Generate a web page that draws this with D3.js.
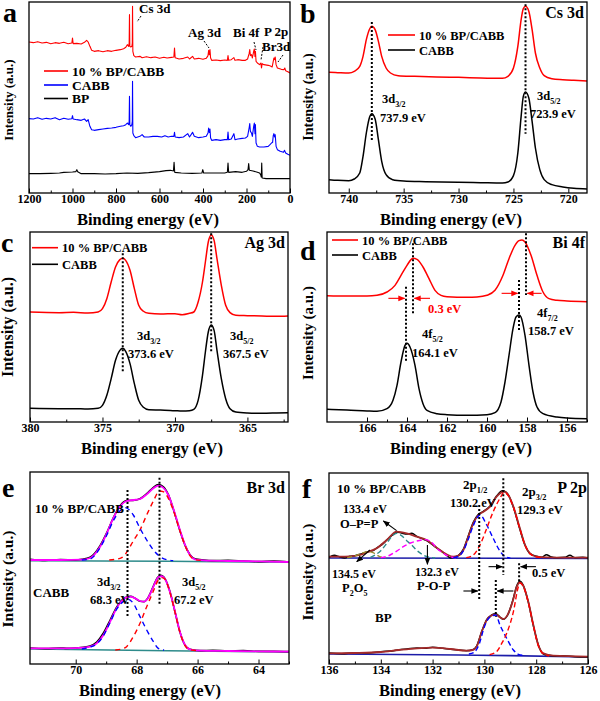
<!DOCTYPE html>
<html><head><meta charset="utf-8">
<script src="https://cdn.jsdelivr.net/npm/d3@7/dist/d3.min.js"></script>
<style>body{margin:0;background:#fff}svg{display:block}</style>
</head><body>
<script>
// ---------------- DATA (binding energy eV, intensity a.u.) ----------------
// Panel a: survey spectra
const aRed = [[1200,453],[1180,451],[1160,454],[1140,450],[1120,452],[1100,448],[1080,451],[1060,449],[1040,452],[1020,448],[1003,450],[1000,465],[997,448],[980,449],[960,447],[945,452],[935,458],[928,453],[920,440],[912,428],[900,425],[880,427],[860,424],[840,427],[820,425],[800,428],[780,430],[765,433],[755,437],[748,445],[742,440],[739.5,450],[738,535],[736.5,440],[732,438],[727,440],[725,450],[724,560],[722.5,425],[718,412],[710,408],[690,410],[680,406],[660,409],[640,406],[620,408],[600,404],[580,407],[565,405],[545,407],[534,408],[531,435],[528,406],[510,402],[490,404],[470,408],[462,402],[448,410],[440,402],[420,404],[400,401],[385,404],[377,412],[374,428],[371,415],[368,430],[365,405],[360,398],[340,399],[320,397],[300,399],[288,398],[285,412],[282,398],[270,400],[258,406],[253,398],[240,400],[220,398],[205,398],[195,402],[188,418],[185,430],[182,412],[177,415],[173,405],[167,425],[164,432],[161,410],[159,425],[156,395],[150,390],[140,385],[134,390],[131,375],[128,388],[120,385],[100,383],[90,381],[82,378],[77,395],[74,405],[71,400],[68,408],[64,385],[58,375],[40,371],[28,370],[24,375],[20,367],[10,364],[0,360]];
const aBlue = [[1200,223],[1180,222],[1160,226],[1140,221],[1120,224],[1100,222],[1080,226],[1060,220],[1040,224],[1020,221],[1003,223],[1000,232],[997,222],[980,220],[960,218],[945,222],[935,215],[928,220],[920,200],[912,190],[900,188],[880,190],[860,192],[840,194],[820,195],[800,197],[780,200],[765,202],[755,205],[748,210],[742,205],[739.5,215],[738,290],[736.5,205],[732,200],[727,205],[725,215],[724,335],[722.5,180],[718,172],[710,166],[690,170],[680,175],[670,168],[650,168],[630,170],[610,170],[590,168],[575,172],[560,168],[545,170],[534,170],[531,182],[528,168],[510,166],[490,168],[470,178],[462,168],[448,182],[440,170],[420,166],[400,168],[385,170],[377,180],[374,195],[371,182],[368,192],[365,165],[360,158],[340,160],[320,158],[300,160],[288,160],[285,183],[282,160],[270,162],[258,178],[253,160],[240,162],[220,164],[205,165],[195,170],[188,195],[185,208],[182,185],[177,180],[173,170],[167,200],[164,210],[161,178],[159,205],[156,150],[150,140],[140,138],[120,138],[100,140],[92,145],[85,150],[80,152],[77,172],[74,178],[71,168],[68,175],[64,140],[58,130],[45,125],[30,122],[25,128],[20,120],[10,116],[0,113]];
const aBlack = [[1200,58],[1150,58],[1100,59],[1060,60],[1040,62],[1000,63],[985,64],[980,70],[976,64],[960,58],[940,58],[900,58],[850,57],[800,58],[750,60],[700,59],[650,61],[600,64],[570,67],[550,68],[536,66],[533,92],[530,62],[500,60],[450,59],[405,60],[401,70],[397,60],[350,60],[300,60],[288,62],[285,90],[282,62],[250,64],[220,62],[200,65],[193,70],[190,88],[187,68],[170,66],[150,62],[140,60],[135,55],[132,48],[130,90],[128,45],[110,43],[80,43],[50,43],[20,43],[0,43]];
const aTicks = [1200,1000,800,600,400,200,0];

// Panel b: Cs 3d
const bRed = [[741.8,362],[741,361],[740,360],[739.5,365],[739,380],[738.7,410],[738.4,460],[738.1,492],[737.9,500],[737.6,490],[737.3,455],[737,410],[736.6,375],[736.2,360],[735.5,352],[734,350],[732,348],[730,347],[728,345],[726,344],[725.5,350],[725,375],[724.6,440],[724.3,520],[724.1,553],[723.9,560],[723.6,545],[723.3,490],[723,420],[722.6,375],[722.2,352],[721.5,343],[720.5,340],[719.5,338],[718.3,336]];
const bBlack = [[741.8,40],[741,38],[740,37],[739.5,42],[739,60],[738.7,110],[738.4,180],[738.1,228],[737.9,238],[737.6,222],[737.3,160],[737,95],[736.6,55],[736,40],[735,36],[733,34],[730,32],[728,31],[726,30],[725.5,33],[725,52],[724.6,120],[724.3,230],[724.1,290],[723.9,303],[723.6,285],[723.3,215],[723,135],[722.6,70],[722.2,40],[721.5,25],[720.5,18],[719.5,14],[718.3,12]];
const bTicks = [740,735,730,725,720];

// Panel c: Ag 3d
const cRed = [[380,330],[378,328],[377,329],[376,327],[375.3,330],[375,340],[374.7,370],[374.4,420],[374.1,465],[373.8,487],[373.6,491],[373.4,485],[373.1,455],[372.8,400],[372.5,350],[372.2,333],[371.8,326],[371,324],[370,325],[369.5,322],[369,326],[368.7,330],[368.4,360],[368.1,420],[367.9,480],[367.7,540],[367.5,561],[367.3,545],[367.1,490],[366.8,410],[366.5,350],[366.2,328],[365.8,320],[365,319],[364,318],[363,317],[362.2,318]];
const cBlack = [[380,41],[378,40],[377,40],[376,39],[375.3,41],[375,50],[374.7,80],[374.4,130],[374.1,185],[373.8,215],[373.6,221],[373.4,212],[373.1,175],[372.8,115],[372.5,65],[372.2,45],[371.8,37],[371,36],[370,34],[369.5,33],[369,34],[368.7,38],[368.4,65],[368.1,140],[367.9,210],[367.7,270],[367.5,291],[367.3,275],[367.1,215],[366.8,130],[366.5,70],[366.2,40],[365.8,30],[365,27],[364,26],[363,27],[362.2,28]];
const cTicks = [380,375,370,365];

// Panel d: Bi 4f
const dRed = [[168,379],[167,378],[166,378],[165.5,380],[165,390],[164.6,410],[164.3,440],[164,470],[163.8,487],[163.7,491],[163.5,488],[163.2,465],[162.9,430],[162.6,395],[162.3,380],[162,376],[161,374],[160.5,375],[160,380],[159.6,395],[159.2,440],[158.9,490],[158.6,530],[158.4,544],[158.25,546],[158.1,540],[157.8,500],[157.5,440],[157.2,390],[156.9,370],[156.5,365],[156,363],[155,361]];
const dBlack = [[168,38],[167,36],[166,33],[165.5,32],[165,40],[164.7,65],[164.5,110],[164.3,180],[164.1,230],[164.0,236],[163.85,225],[163.6,170],[163.4,100],[163.2,55],[163,35],[162.5,25],[162,22],[161,20],[160,22],[159.6,28],[159.3,60],[159.1,120],[158.9,200],[158.7,280],[158.55,315],[158.4,321],[158.3,315],[158.1,260],[157.9,170],[157.7,90],[157.5,45],[157.2,25],[156.5,15],[156,12],[155,10]];
const dTicks = [166,164,162,160,158,156];

// Panel e: Br 3d
const eTopData = [[71.5,314],[71,311],[70.5,313],[70,312],[69.8,314],[69.53,320],[69.2,355],[68.98,394],[68.77,438],[68.55,474],[68.33,490],[68.11,491],[67.89,496],[67.67,511],[67.45,530],[67.29,538],[67.13,532],[66.96,508],[66.8,466],[66.58,400],[66.41,356],[66.25,328],[66.09,316],[65.8,312],[65.5,310],[65,311],[64.5,309],[64,307],[63.5,309],[63,306]];
const eTopFit = [[71.5,312],[70.5,312],[69.8,313],[69.53,318],[69.2,352],[68.98,392],[68.77,437],[68.55,472],[68.33,489],[68.11,492],[67.89,495],[67.67,509],[67.45,527],[67.29,535],[67.13,529],[66.96,507],[66.8,467],[66.58,402],[66.41,357],[66.25,327],[66.09,314],[65.8,311],[65,309],[64,308],[63,306]];
const eTop52 = [[68.9,312],[68.7,314],[68.49,319],[68.33,335],[68.11,369],[67.89,402],[67.67,447],[67.45,489],[67.25,519],[67.13,517],[66.96,497],[66.8,462],[66.58,399],[66.41,355],[66.25,325],[66.09,313],[65.9,311]];
const eTop32 = [[69.8,312],[69.53,315],[69.2,349],[68.98,387],[68.77,429],[68.55,459],[68.38,469],[68.11,447],[67.89,407],[67.67,372],[67.45,342],[67.23,322],[67.01,313],[66.8,310]];
const eTopBase = [[71.5,310],[67,308],[63,305]];
const eBotData = [[71.5,48],[71,46],[70.5,48],[70.3,47],[70,48],[69.75,50],[69.53,54],[69.31,66],[69.09,93],[68.87,132],[68.66,170],[68.49,191],[68.33,201],[68.2,203],[68.05,197],[67.89,188],[67.76,187],[67.62,200],[67.45,234],[67.32,259],[67.21,266],[67.07,256],[66.91,218],[66.74,156],[66.58,96],[66.41,56],[66.25,44],[65.92,40],[65.5,41],[65,39],[64.5,40],[64,38],[63.5,38],[63,37]];
const eBotFit = [[71.5,47],[70.3,47],[69.75,49],[69.53,52],[69.31,62],[69.09,87],[68.87,127],[68.66,167],[68.49,189],[68.33,200],[68.2,202],[68.05,197],[67.89,189],[67.76,187],[67.62,199],[67.45,232],[67.32,257],[67.21,264],[67.07,255],[66.91,217],[66.74,157],[66.58,97],[66.41,57],[66.25,44],[65.92,40],[65,39],[64,38],[63,37]];
const eBot52 = [[68.7,42],[68.49,45],[68.33,52],[68.11,82],[67.89,122],[67.67,172],[67.45,219],[67.29,252],[67.18,259],[67.07,254],[66.91,215],[66.74,155],[66.58,95],[66.41,55],[66.25,43],[66.0,40]];
const eBot32 = [[69.8,45],[69.53,51],[69.31,60],[69.09,85],[68.87,125],[68.66,164],[68.44,187],[68.27,194],[68.11,182],[67.89,142],[67.67,102],[67.45,67],[67.29,47],[67.1,42]];
const eBotBase = [[71.5,45],[67,40],[63,36]];
const eTicks = [70,68,66,64];

// Panel f: P 2p
const fTopData = [[136,320],[135.8,326],[135.6,322],[135.4,318],[135.19,323],[135,325],[134.8,329],[134.55,336],[134.3,340],[134.16,348],[133.9,362],[133.77,372],[133.5,390],[133.39,396],[133.2,393],[133.0,390],[132.8,392],[132.61,383],[132.4,376],[132.23,370],[131.84,348],[131.6,335],[131.46,326],[131.3,318],[131.2,320],[131.0,326],[130.81,345],[130.62,385],[130.43,425],[130.23,449],[130.04,458],[129.78,474],[129.53,504],[129.3,520],[129.24,519],[129.08,508],[128.88,470],[128.63,404],[128.43,356],[128.24,331],[127.98,323],[127.8,320],[127.6,328],[127.45,322],[127.2,319],[126.9,320],[126.7,326],[126.5,319],[126.2,320],[126,318]];
const fTopFit = [[136,322],[135.58,322],[135.19,323],[134.8,327],[134.55,335],[134.16,347],[133.77,372],[133.39,397],[133.0,392],[132.61,382],[132.23,372],[131.84,349],[131.46,329],[131.2,322],[131.0,325],[130.81,342],[130.62,382],[130.43,422],[130.23,447],[130.04,457],[129.78,472],[129.53,502],[129.24,517],[129.08,507],[128.88,472],[128.63,407],[128.43,357],[128.24,332],[127.98,322],[127.6,320],[126.82,319],[126,319]];
const fTopBase = [[136,318],[126,317]];
const fTopP2O5 = [[135.3,319],[135.0,324],[134.75,332],[134.5,337],[134.3,334],[134.15,327],[134.0,321],[133.8,319]];
const fTopOPP = [[134.4,320],[134.2,328],[134.0,340],[133.77,362],[133.55,385],[133.39,392],[133.2,385],[133.0,370],[132.81,357],[132.6,340],[132.36,327],[132.1,320],[131.9,318]];
const fTopPOP = [[134.0,319],[133.8,322],[133.64,327],[133.4,338],[133.13,352],[132.85,363],[132.61,369],[132.29,373],[132.0,362],[131.84,347],[131.6,333],[131.46,326],[131.2,320],[131.0,318]];
const fTopP12 = [[131.2,319],[131.0,323],[130.81,340],[130.62,375],[130.43,415],[130.17,447],[129.91,417],[129.66,377],[129.4,339],[129.2,322],[129.0,318]];
const fTopP32 = [[130.7,319],[130.43,327],[130.17,357],[129.91,407],[129.66,457],[129.4,497],[129.24,515],[129.08,505],[128.88,470],[128.63,405],[128.43,356],[128.24,331],[127.98,321],[127.7,319]];
const fBotData = [[136,33],[135.5,31],[135,34],[134.5,33],[134,37],[133.5,40],[133.3,43],[133,45],[132.6,48],[132.3,47],[132,50],[131.6,47],[131.3,44],[131,42],[130.7,40],[130.45,43],[130.3,54],[130.1,98],[129.91,133],[129.72,147],[129.56,151],[129.4,141],[129.27,134],[129.1,147],[128.9,192],[128.75,235],[128.63,248],[128.5,236],[128.3,184],[128.11,115],[127.92,58],[127.72,30],[127.5,26],[127.34,24],[127,25],[126.5,22],[126,21]];
const fBotFit = [[136,32],[135,33],[134,36],[133.3,42],[132.6,47],[132,49],[131.3,45],[130.7,40],[130.45,42],[130.3,52],[130.1,97],[129.91,132],[129.72,146],[129.56,149],[129.4,140],[129.27,135],[129.1,148],[128.9,190],[128.75,232],[128.63,245],[128.5,235],[128.3,185],[128.11,117],[127.92,57],[127.72,32],[127.34,25],[126,22]];
const fBotBase = [[136,30],[131,27],[129,25],[126,21]];
const fBotP12 = [[130.6,30],[130.4,35],[130.2,60],[130.0,112],[129.8,140],[129.56,147],[129.4,117],[129.14,77],[128.88,42],[128.69,29],[128.5,26]];
const fBotP32 = [[129.8,28],[129.53,37],[129.33,62],[129.14,92],[128.88,157],[128.69,232],[128.63,243],[128.5,233],[128.3,183],[128.11,115],[127.92,55],[127.72,30],[127.5,24]];
const fTicks = [136,134,132,130,128,126];

// ---------------- DRAWING ----------------
const FONT = '"Liberation Serif","Times New Roman",serif';
const svg = d3.select('body').append('svg').attr('width',600).attr('height',701)
  .style('font-family',FONT).style('font-weight','bold');
const defs = svg.append('defs');
['red','black'].forEach(c=>{
  defs.append('marker').attr('id','ah-'+c).attr('viewBox','0 0 10 10').attr('refX',9).attr('refY',5)
    .attr('markerWidth',7).attr('markerHeight',7).attr('orient','auto-start-reverse').attr('markerUnits','userSpaceOnUse')
    .append('path').attr('d','M0,1 L10,5 L0,9 Z').attr('fill',c);
});

function makePanel(id, o){
  const x = d3.scaleLinear().domain(o.xDom).range([o.left,o.right]);
  const y = d3.scaleLinear().domain([0,(o.bottom-o.top)*3]).range([o.bottom,o.top]);
  const g = svg.append('g');
  defs.append('clipPath').attr('id','clip-'+id).append('rect')
    .attr('x',o.left).attr('y',o.top).attr('width',o.right-o.left).attr('height',o.bottom-o.top);
  const plot = g.append('g').attr('clip-path',`url(#clip-${id})`);
  const step = o.ticks[1]-o.ticks[0];
  const minors = o.ticks.map(t=>t+step/2).filter(t=> (t-o.xDom[0])*(t-o.xDom[1])<=0);
  const gm = g.append('g').attr('transform',`translate(0,${o.bottom})`)
    .call(d3.axisBottom(x).tickValues(minors).tickSize(-2.5).tickFormat(''));
  gm.select('.domain').remove();
  const ga = g.append('g').attr('transform',`translate(0,${o.bottom})`)
    .call(d3.axisBottom(x).tickValues(o.ticks).tickSize(-4.5).tickPadding(8).tickFormat(d3.format('d')));
  ga.select('.domain').remove();
  ga.selectAll('text').attr('font-size',12).attr('font-family',FONT).attr('font-weight','bold').attr('fill','#000').attr('dy','0.2em');
  g.selectAll('.tick line').attr('stroke','#000').attr('stroke-width',1);
  g.append('rect').attr('x',o.left).attr('y',o.top).attr('width',o.right-o.left).attr('height',o.bottom-o.top)
    .attr('fill','none').attr('stroke','#000').attr('stroke-width',1.3);
  g.append('text').attr('x',o.titleX).attr('y',o.bottom+32).attr('text-anchor','middle')
    .attr('font-size',16.5).text('Binding energy (eV)');
  g.append('text').attr('transform',`translate(${o.yTitleX},${o.yTitleY}) rotate(-90)`).attr('text-anchor','middle')
    .attr('font-size',o.yTitleSize).text('Intensity (a.u.)');
  g.append('text').attr('x',o.letterX).attr('y',o.letterY).attr('font-size',28).text(id);
  return {x,y,g,plot};
}

function line(P, data, color, width, dash, curve){
  const gen = d3.line().x(d=>P.x(d[0])).y(d=>P.y(d[1])).curve(curve||d3.curveMonotoneX);
  P.plot.append('path').datum(data).attr('d',gen).attr('fill','none').attr('stroke',color)
    .attr('stroke-width',width).attr('stroke-dasharray',dash||null).attr('stroke-linejoin','round');
}
function vdot(P, ev, v0, v1){
  P.g.append('line').attr('x1',P.x(ev)).attr('x2',P.x(ev)).attr('y1',P.y(v0)).attr('y2',P.y(v1))
    .attr('stroke','#000').attr('stroke-width',2).attr('stroke-dasharray','2,2');
}
function arrow(P, e0, v0, e1, v1, color){
  P.g.append('line').attr('x1',P.x(e0)).attr('y1',P.y(v0)).attr('x2',P.x(e1)).attr('y2',P.y(v1))
    .attr('stroke',color).attr('stroke-width',1.1).attr('marker-end',`url(#ah-${color})`);
}
function txt(x, y, parts, size, opts){
  opts = opts||{};
  const t = svg.append('text').attr('x',x).attr('y',y).attr('font-size',size)
    .attr('fill',opts.color||'#000').attr('text-anchor',opts.anchor||'start');
  let prevSub=false; const sh = size*0.28;
  parts.forEach(p=>{
    const isSub = Array.isArray(p); const s = isSub?p[0]:p;
    const ts = t.append('tspan').text(s);
    if(isSub){ ts.attr('font-size',size*0.64); if(!prevSub) ts.attr('dy',sh); }
    else if(prevSub) ts.attr('dy',-sh);
    prevSub = isSub;
  });
  return t;
}
function legend(x0, x1, yy, color, label, size){
  svg.append('line').attr('x1',x0).attr('x2',x1).attr('y1',yy).attr('y2',yy).attr('stroke',color).attr('stroke-width',1.6);
  txt(x1+4, yy+size*0.36, [label], size);
}

// ---- Panel a ----
const A = makePanel('a',{left:29,right:290,top:2,bottom:193,xDom:[1200,0],ticks:aTicks,
  titleX:148,yTitleX:13,yTitleY:100,yTitleSize:13,letterX:3,letterY:22});
line(A,aBlack,'#000',1.1,null,d3.curveLinear);
line(A,aBlue,'#0000ff',1.1,null,d3.curveLinear);
line(A,aRed,'#ff0000',1.1,null,d3.curveLinear);
legend(44,68,71,'#ff0000','10 % BP/CABB',13.5);
legend(44,68,85,'#0000ff','CABB',13.5);
legend(44,68,98.5,'#000','BP',13.5);
txt(139,13,['Cs 3d'],13); txt(188,37,['Ag 3d'],13); txt(233,37,['Bi 4f'],13);
txt(264,36,['P 2p'],13); txt(262,51,['Br3d'],13);
[[141,16,137,22],[204,41,209,48],[254,42,256,50],[263,47,261,60],[283,55,278,62]].forEach(s=>{
  svg.append('line').attr('x1',s[0]).attr('y1',s[1]).attr('x2',s[2]).attr('y2',s[3])
    .attr('stroke','#000').attr('stroke-width',1).attr('stroke-dasharray','2,1.5');
});

// ---- Panel b ----
const B = makePanel('b',{left:329,right:587,top:2,bottom:193,xDom:[741.8,718.3],ticks:bTicks,
  titleX:451,yTitleX:313,yTitleY:97,yTitleSize:14,letterX:300,letterY:23});
line(B,bBlack,'#000',1.5); line(B,bRed,'#ff0000',1.5);
vdot(B,737.9,513,153); vdot(B,723.9,566,178);
legend(388,415,35,'#ff0000','10 % BP/CABB',12.5);
legend(388,415,50,'#000','CABB',12.5);
txt(584,18,['Cs 3d'],16,{anchor:'end'});
txt(382,103,['3d',['3/2']],12.5); txt(380,122,['737.9 eV'],12.5);
txt(537,100,['3d',['5/2']],12.5); txt(530,118,['723.9 eV'],12.5);

// ---- Panel c ----
const C = makePanel('c',{left:30,right:288,top:232,bottom:422,xDom:[380,362.2],ticks:cTicks,
  titleX:152,yTitleX:13,yTitleY:327,yTitleSize:16,letterX:1,letterY:252});
line(C,cBlack,'#000',1.5); line(C,cRed,'#ff0000',1.5);
vdot(C,373.6,506,151); vdot(C,367.5,566,211);
legend(32,58,247.7,'#ff0000','10 % BP/CABB',12.5);
legend(32,58,264.3,'#000','CABB',12.5);
txt(285,248,['Ag 3d'],16,{anchor:'end'});
txt(137,340,['3d',['3/2']],12.5); txt(128,358,['373.6 eV'],12.5);
txt(230,340,['3d',['5/2']],12.5); txt(223,358,['367.5 eV'],12.5);

// ---- Panel d ----
const D = makePanel('d',{left:327,right:587,top:232,bottom:422,xDom:[168,155],ticks:dTicks,
  titleX:461,yTitleX:313,yTitleY:333,yTitleSize:15,letterX:300,letterY:260});
line(D,dBlack,'#000',1.5); line(D,dRed,'#ff0000',1.5);
vdot(D,163.7,536,326); vdot(D,158.05,566,381); vdot(D,164.05,406,181); vdot(D,158.4,426,273);
arrow(D,164.93,371,164.12,371,'red'); arrow(D,162.85,371,163.63,371,'red');
arrow(D,159.27,386,158.47,386,'red'); arrow(D,157.27,386,157.99,386,'red');
legend(332,358,240,'#ff0000','10 % BP/CABB',12.5);
legend(332,358,255,'#000','CABB',12.5);
txt(585,248,['Bi 4f'],16,{anchor:'end'});
txt(428,313,['0.3 eV'],12.5,{color:'#ff0000'});
txt(422,338,['4f',['5/2']],12.5); txt(412,357,['164.1 eV'],12.5);
txt(537,317,['4f',['7/2']],12.5); txt(528,335,['158.7 eV'],12.5);

// ---- Panel e ----
const E = makePanel('e',{left:30,right:289,top:472,bottom:664,xDom:[71.5,63],ticks:eTicks,
  titleX:150,yTitleX:13,yTitleY:579,yTitleSize:15.5,letterX:2,letterY:497});
line(E,eTopBase,'#2e8b8b',1.5); line(E,eBotBase,'#2e8b8b',1.5);
line(E,eTopData,'#000',1.6); line(E,eBotData,'#000',1.6);
line(E,eTopFit,'#ff00ff',1.8); line(E,eBotFit,'#ff00ff',1.8);
line(E,eTop52,'#ff0000',1.4,'5,4'); line(E,eTop32,'#0000ff',1.4,'5,4');
line(E,eBot52,'#ff0000',1.4,'5,4'); line(E,eBot32,'#0000ff',1.4,'5,4');
vdot(E,68.3,522,142); vdot(E,67.25,559,177);
txt(285,493,['Br 3d'],16,{anchor:'end'});
txt(35,513,['10 % BP/CABB'],13); txt(33,597,['CABB'],13);
txt(97,586,['3d',['3/2']],12.5); txt(90,604,['68.3 eV'],12.5);
txt(182,586,['3d',['5/2']],12.5); txt(174,604,['67.2 eV'],12.5);

// ---- Panel f ----
const F = makePanel('f',{left:329,right:588,top:473,bottom:664,xDom:[136,126],ticks:fTicks,
  titleX:450,yTitleX:313,yTitleY:572,yTitleSize:15.5,letterX:302,letterY:498});
const FIT='#a52a2a';
line(F,fTopBase,'#1c1ca8',1.6); line(F,fBotBase,'#1c1ca8',1.6);
line(F,fTopData,'#000',1.5); line(F,fBotData,'#000',1.5);
line(F,fTopFit,FIT,1.8); line(F,fBotFit,FIT,1.8);
line(F,fTopP2O5,'#9b8b30',1.4,'5,3'); line(F,fTopOPP,'#2e8b8b',1.4,'5,3');
line(F,fTopPOP,'#ff00ff',1.4,'5,3'); line(F,fTopP12,'#0000ff',1.4,'5,3');
line(F,fTopP32,'#ff0000',1.4,'5,3'); line(F,fBotP12,'#0000ff',1.4,'5,3');
line(F,fBotP32,'#ff0000',1.4,'5,3');
vdot(F,130.2,477,192); vdot(F,129.27,557,267); vdot(F,129.56,252,142); vdot(F,128.66,302,242);
arrow(F,130.81,219,130.26,219,'black'); arrow(F,128.88,219,129.5,219,'black');
arrow(F,129.84,292,129.31,292,'black'); arrow(F,128.01,292,128.6,292,'black');
arrow(F,133.39,400,133.9,429,'black'); arrow(F,134.42,342,134.93,307,'black'); arrow(F,132.2,357,132.2,299,'black');
txt(587,493,['P 2p'],16,{anchor:'end'});
txt(337,493,['10 % BP/CABB'],13);
txt(463,489,['2p',['1/2']],13); txt(450,507,['130.2 eV'],12.5);
txt(522,496,['2p',['3/2']],13); txt(517,514,['129.3 eV'],12.5);
txt(343,513,['133.4 eV'],12); txt(340,528,['O\u2013P=P'],12.5);
txt(332,578,['134.5 eV'],12); txt(342,592,['P',['2'],'O',['5']],12.5);
txt(415,576,['132.3 eV'],12); txt(417,590,['P-O-P'],12.5);
txt(375,622,['BP'],13);
txt(532,577,['0.5 eV'],12.5);
</script>
</body></html>
